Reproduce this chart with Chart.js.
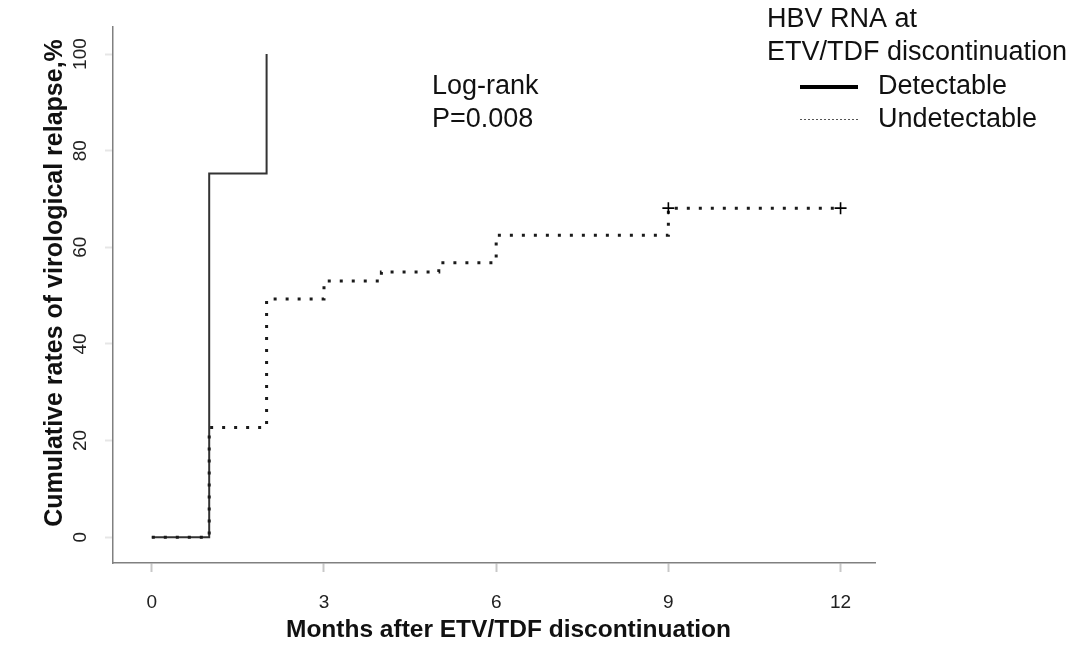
<!DOCTYPE html>
<html>
<head>
<meta charset="utf-8">
<script src="https://cdn.jsdelivr.net/npm/chart.js@4/dist/chart.umd.min.js"></script>
<style>
  html, body { margin: 0; padding: 0; background: #fff; }
  #c { display: block; }
</style>
</head>
<body>
<canvas id="c" width="1080" height="651"></canvas>
<script>
// ---- data ----
const detectableMonths = [0, 1, 2];
const detectableRates = [0, 75.3, 100];
const undetectableMonths = [0, 1, 2, 3, 4, 5, 6, 9, 12];
const undetectableRates = [0, 22.7, 49.3, 53.0, 54.9, 56.8, 62.5, 68.1, 68.1];
const censorMonths = [9, 12];
const censorRates = [68.1, 68.1];
const xTickValues = [0, 3, 6, 9, 12];
const yTickValues = [0, 20, 40, 60, 80, 100];
const xTitle = 'Months after ETV/TDF discontinuation';
const yTitle = 'Cumulative rates of virological relapse,%';
const legendTitle = ['HBV RNA at', 'ETV/TDF discontinuation'];
const seriesNames = ['Detectable', 'Undetectable'];
const annotation = ['Log-rank', 'P=0.008'];

const FONT = '"Liberation Sans", Arial, sans-serif';
const toPts = (xs, ys) => xs.map((x, i) => ({ x: x, y: ys[i] }));

const overlay = {
  id: 'overlay',
  afterDraw(chart) {
    const ctx = chart.ctx;
    ctx.save();
    ctx.fillStyle = '#111';
    // axis titles
    ctx.textAlign = 'center';
    ctx.textBaseline = 'middle';
    ctx.font = 'bold 24.5px ' + FONT;
    ctx.fillText(xTitle, 508.5, 630);
    ctx.save();
    ctx.font = 'bold 25px ' + FONT;
    ctx.translate(55, 283);
    ctx.rotate(-Math.PI / 2);
    ctx.fillText(yTitle, 0, 0);
    ctx.restore();
    // annotation
    ctx.font = '27px ' + FONT;
    ctx.textAlign = 'left';
    ctx.fillText(annotation[0], 432, 87);
    ctx.fillText(annotation[1], 432, 120);
    // legend
    ctx.fillText(legendTitle[0], 767, 20);
    ctx.fillText(legendTitle[1], 767, 53);
    ctx.fillText(seriesNames[0], 878, 87);
    ctx.fillText(seriesNames[1], 878, 120);
    ctx.strokeStyle = '#000';
    ctx.lineWidth = 4;
    ctx.beginPath(); ctx.moveTo(800, 87); ctx.lineTo(858, 87); ctx.stroke();
    ctx.strokeStyle = '#555';
    ctx.lineWidth = 1;
    ctx.setLineDash([2, 2]);
    ctx.beginPath(); ctx.moveTo(800, 119.5); ctx.lineTo(858, 119.5); ctx.stroke();
    ctx.restore();
  }
};

new Chart(document.getElementById('c'), {
  type: 'scatter',
  data: {
    datasets: [
      {
        label: 'censored',
        data: toPts(censorMonths, censorRates),
        pointStyle: 'cross',
        pointRadius: 6,
        borderColor: '#000',
        borderWidth: 1.6,
        showLine: false
      },
      {
        label: seriesNames[1],
        data: toPts(undetectableMonths, undetectableRates),
        showLine: true,
        stepped: true,
        borderColor: '#1a1a1a',
        borderWidth: 3,
        borderDash: [3, 9],
        pointRadius: 0,
        fill: false
      },
      {
        label: seriesNames[0],
        data: toPts(detectableMonths, detectableRates),
        showLine: true,
        stepped: true,
        borderColor: '#333',
        borderWidth: 2,
        pointRadius: 0,
        fill: false
      }
    ]
  },
  options: {
    responsive: false,
    animation: false,
    events: [],
    layout: { padding: { left: 0, right: 205, top: 27, bottom: 0 } },
    plugins: { legend: { display: false }, tooltip: { enabled: false } },
    scales: {
      x: {
        type: 'linear',
        min: -0.676,
        max: 12.6,
        afterFit: s => { s.height = 88; },
        afterBuildTicks: s => { s.ticks = xTickValues.map(v => ({ value: v })); },
        grid: { display: true, drawOnChartArea: false, drawTicks: true, tickLength: 9, tickColor: '#c8c8c8', tickWidth: 2 },
        border: { display: true, color: '#808080', width: 1.5 },
        ticks: { color: '#222', font: { family: FONT, size: 19 }, padding: 19, maxRotation: 0, autoSkip: false }
      },
      y: {
        type: 'linear',
        min: -5.35,
        max: 105.6,
        afterFit: s => { s.width = 113; },
        afterBuildTicks: s => { s.ticks = yTickValues.map(v => ({ value: v })); },
        grid: { display: true, drawOnChartArea: false, drawTicks: true, tickLength: 8, tickColor: '#e6e6e6', tickWidth: 2 },
        border: { display: true, color: '#808080', width: 1.5 },
        ticks: { color: '#222', font: { family: FONT, size: 19 }, padding: 8, minRotation: 90, maxRotation: 90, crossAlign: 'center', autoSkip: false }
      }
    }
  },
  plugins: [overlay]
});
</script>
</body>
</html>
